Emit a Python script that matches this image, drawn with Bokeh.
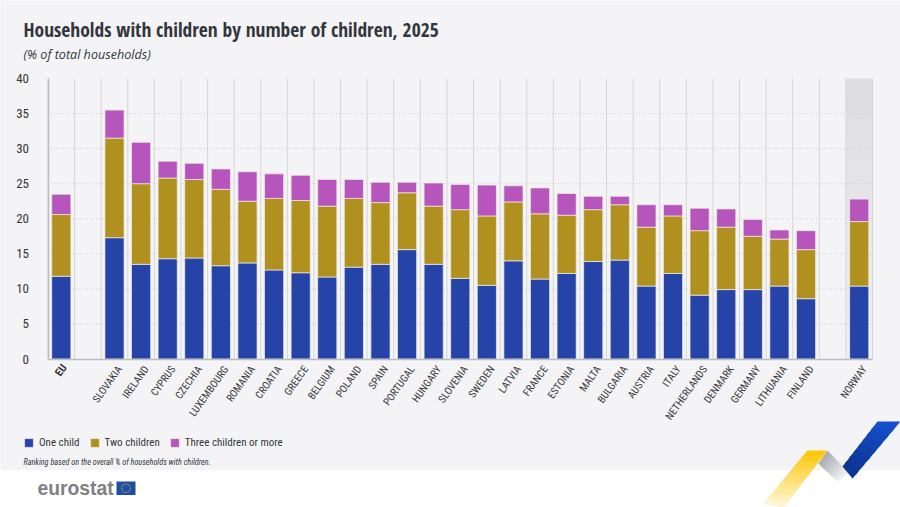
import math
from bokeh.plotting import figure
from bokeh.models import (Range1d, FixedTicker, Label, BoxAnnotation, PolyAnnotation,
                          Legend, LegendItem, ColumnDataSource)
from bokeh.embed import file_html
from bokeh.resources import INLINE

countries = ["EU", "", "SLOVAKIA", "IRELAND", "CYPRUS", "CZECHIA", "LUXEMBOURG", "ROMANIA", "CROATIA", "GREECE",
             "BELGIUM", "POLAND", "SPAIN", "PORTUGAL", "HUNGARY", "SLOVENIA", "SWEDEN", "LATVIA", "FRANCE", "ESTONIA",
             "MALTA", "BULGARIA", "AUSTRIA", "ITALY", "NETHERLANDS", "DENMARK", "GERMANY", "LITHUANIA", "FINLAND",
             "", "NORWAY"]
one_child = [11.8, 0, 17.3, 13.5, 14.3, 14.4, 13.3, 13.7, 12.7, 12.3, 11.7, 13.1, 13.5, 15.6, 13.5, 11.5, 10.5, 14.0,
             11.4, 12.2, 13.9, 14.1, 10.4, 12.2, 9.1, 9.9, 9.9, 10.4, 8.6, 0, 10.4]
two_children = [8.8, 0, 14.2, 11.5, 11.5, 11.2, 10.9, 8.8, 10.2, 10.3, 10.1, 9.8, 8.8, 8.1, 8.3, 9.8, 9.9, 8.4,
                9.3, 8.3, 7.4, 7.9, 8.4, 8.2, 9.2, 8.9, 7.6, 6.7, 7.0, 0, 9.2]
three_plus = [2.9, 0, 4.0, 5.9, 2.4, 2.3, 2.9, 4.2, 3.5, 3.6, 3.8, 2.7, 2.9, 1.5, 3.3, 3.6, 4.4, 2.3,
              3.7, 3.1, 1.9, 1.2, 3.2, 1.6, 3.2, 2.6, 2.4, 1.3, 2.7, 0, 3.2]
series_names = ["One child", "Two children", "Three children or more"]
series_colors = ["#2644A7", "#B09120", "#B656BD"]
y_ticks = [0, 5, 10, 15, 20, 25, 30, 35, 40]
grid_values = [5, 10, 15, 20, 25, 30, 35]

TEXT = "#33363d"
BG = "#f4f4f6"
NARROW = "Roboto Condensed"
TITLE_FONT = "Open Sans Condensed"
W, H = 900, 507
PLOT_L, PLOT_R, PLOT_T, PLOT_B = 47.5, 872, 78, 358.5
SLOT = (PLOT_R - PLOT_L) / len(countries)
UNIT = (PLOT_B - PLOT_T) / 40
N = len(countries)

p = figure(width=W, height=H, output_backend="svg", toolbar_location=None,
           x_range=Range1d(-PLOT_L / SLOT, N + (W - PLOT_R) / SLOT),
           y_range=Range1d(-(H - PLOT_B) / UNIT, PLOT_B / UNIT),
           min_border=0,
           background_fill_color=BG, border_fill_color=BG, outline_line_color=None)
p.grid.visible = False

def X(px): return px
def Y(py): return H - py

def mix(u, v, t): return u + (v - u) * t
def blend(c0, c1, t):
    a = [int(c0[i:i + 2], 16) for i in (1, 3, 5)]
    b = [int(c1[i:i + 2], 16) for i in (1, 3, 5)]
    return "#%02x%02x%02x" % tuple(round(mix(a[i], b[i], t)) for i in range(3))

def box(l, r, t, b, color):
    p.add_layout(BoxAnnotation(left=X(l), right=X(r), top=Y(t), bottom=Y(b),
                               left_units="screen", right_units="screen", bottom_units="screen", top_units="screen",
                               fill_color=color, fill_alpha=1, line_color=None, level="underlay"))
box(0, 900, 469.5, 507, "#ffffff")
STEPS = 14
for i in range(STEPS):
    box(845.5, 872, mix(78, 358.5, i / STEPS), mix(78, 358.5, (i + 1) / STEPS) + 0.5,
        blend("#dedee0", "#f0f0f2", i / (STEPS - 1)))

# grid lines, limited to the plot area
bounds = list(range(N + 1))
p.segment(x0=bounds, x1=bounds, y0=[0] * (N + 1), y1=[40] * (N + 1), line_color="#d6d6d8", line_width=1)
hg = p.segment(x0=[0] * len(grid_values), x1=[N] * len(grid_values), y0=grid_values, y1=grid_values,
               line_color="#cfcfd1", line_width=1)
hg.glyph.line_dash = [1, 2]

xs = [i + 0.5 for i in range(N)]
src = ColumnDataSource(dict(x=xs, a=one_child, b=two_children, c=three_plus))
rs = p.vbar_stack(["a", "b", "c"], x="x", width=0.72, source=src, color=series_colors,
                  line_color="#f1efe6", line_width=0.7)

yaxis = p.yaxis[0]
yaxis.ticker = FixedTicker(ticks=y_ticks)
yaxis.fixed_location = 0
yaxis.bounds = (0, 40)
yaxis.axis_line_color = "#bdbdc0"
yaxis.axis_line_width = 1.5
yaxis.major_tick_line_color = None
yaxis.minor_tick_line_color = None
yaxis.major_label_text_font = NARROW
yaxis.major_label_text_font_size = "13px"
yaxis.major_label_text_color = TEXT
yaxis.major_label_standoff = 13

# the rotated labels end slightly to the right of their bars: invisible ticks sit 0.2 slot right of the centres
labels = {round(x + 0.2, 1): c for x, c in zip(xs, countries) if c not in ("", "EU")}
xaxis = p.xaxis[0]
xaxis.ticker = FixedTicker(ticks=list(labels))
xaxis.fixed_location = 0
xaxis.bounds = (0, N)
xaxis.major_label_overrides = labels
xaxis.axis_line_color = "#bdbdc0"
xaxis.axis_line_width = 1.5
xaxis.major_tick_line_color = None
xaxis.minor_tick_line_color = None
xaxis.major_label_orientation = 0.95
xaxis.major_label_text_font = NARROW
xaxis.major_label_text_font_size = "10.5px"
xaxis.major_label_text_color = TEXT
xaxis.major_label_standoff = 2

def text(s, px, py, size, font=NARROW, style="normal", color=TEXT, angle=0, align="left", baseline="middle"):
    p.add_layout(Label(x=X(px), y=Y(py), x_units="screen", y_units="screen", text=s, text_font=font,
                       text_font_size=size, text_font_style=style, text_color=color, angle=angle,
                       text_align=align, text_baseline=baseline))

text("Households with children by number of children, 2025", 23, 29, "19.5px", font=TITLE_FONT, style="bold")
text("(% of total households)", 23, 54, "12.6px", font="Open Sans", style="italic")
text("EU", 64, 365, "11px", style="bold", angle=0.95, align="right")
text("Ranking based on the overall % of households with children.", 23, 461, "8.2px", style="italic")
text("eurostat", 37, 488, "19.3px", font="Liberation Sans", style="bold", color="#7f8085")

def poly(xs_, ys_, color):
    p.add_layout(PolyAnnotation(xs=[X(v) for v in xs_], ys=[Y(v) for v in ys_], xs_units="screen", ys_units="screen",
                                fill_color=color, fill_alpha=1, line_color=None, level="annotation"))

# EU flag
poly([116, 135, 135, 116], [481, 481, 494.5, 494.5], "#1f4fa3")
for k in range(12):
    a = k * math.pi / 6
    cx, cy = 125.5 + 4.3 * math.cos(a), 487.7 + 4.3 * math.sin(a)
    poly([cx - .5, cx + .5, cx + .5, cx - .5], [cy - .5, cy - .5, cy + .5, cy + .5], "#e7c73a")

def ribbon(l0, r0, l1, r1, c0, c1, n=8):
    """gradient ribbon: l/r are the two edges' end points; slices overlap to hide seams"""
    for k in range(n):
        t0, t1 = k / n, min(1, (k + 1.5) / n)
        poly([mix(l0[0], l1[0], t0), mix(r0[0], r1[0], t0), mix(r0[0], r1[0], t1), mix(l0[0], l1[0], t1)],
             [mix(l0[1], l1[1], t0), mix(r0[1], r1[1], t0), mix(r0[1], r1[1], t1), mix(l0[1], l1[1], t1)],
             blend(c0, c1, (k + 0.5) / n))

ribbon((818, 463), (827, 450), (837, 481), (848, 472), "#a9aaae", "#f1f1f3")
ribbon((877, 421), (900, 421), (842, 466), (852, 478), "#1450cc", "#0d338f")
ribbon((807, 450), (827, 450), (763, 503), (783, 507), "#fbc500", "#fff7d8", n=10)

leg = Legend(items=[LegendItem(label=n_, renderers=[r]) for n_, r in zip(series_names, rs)],
             orientation="horizontal", location=(X(23), Y(449)), glyph_width=11, glyph_height=11,
             label_text_font=NARROW, label_text_font_size="11px", label_text_color=TEXT,
             background_fill_alpha=0, border_line_color=None, margin=0, padding=0, spacing=9,
             label_standoff=5, label_height=11)
p.add_layout(leg, "center")

open("out.html", "w").write(file_html(p, INLINE))
